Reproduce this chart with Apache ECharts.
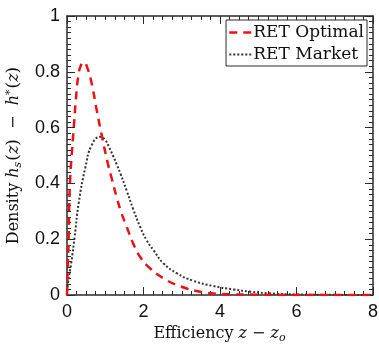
<!DOCTYPE html>
<html>
<head>
<meta charset="utf-8">
<script src="https://cdn.jsdelivr.net/npm/echarts@6/dist/echarts.min.js"></script>
<style>
  html, body { margin: 0; padding: 0; background: #fff; }
  #chart { width: 379px; height: 345px; }
</style>
</head>
<body>
<div id="chart"></div>
<script>
// Density curves of efficiency, sampled at (x, density) points
const optimalX = [0, 0.005, 0.018, 0.044, 0.06, 0.087, 0.11, 0.175, 0.235, 0.30, 0.37, 0.44, 0.53, 0.65, 0.78, 0.92, 1.07, 1.18, 1.31, 1.42, 1.56, 1.73, 1.91, 2.17, 2.52, 2.95, 3.48, 4.0, 5, 6, 7, 8];
const optimalY = [0, 0.03, 0.09, 0.21, 0.33, 0.43, 0.478, 0.597, 0.705, 0.789, 0.825, 0.834, 0.815, 0.755, 0.66, 0.565, 0.47, 0.412, 0.345, 0.295, 0.245, 0.185, 0.137, 0.096, 0.06, 0.032, 0.012, 0.004, 0.001, 0, 0, 0];
const marketX = [0, 0.026, 0.11, 0.2, 0.305, 0.48, 0.65, 0.87, 1.0, 1.1, 1.2, 1.3, 1.4, 1.56, 1.73, 1.91, 2.08, 2.26, 2.52, 2.87, 3.3, 3.83, 4.35, 4.8, 5.3, 6, 7, 8];
const marketY = [0, 0.042, 0.114, 0.209, 0.329, 0.457, 0.538, 0.567, 0.555, 0.53, 0.5, 0.468, 0.434, 0.374, 0.308, 0.245, 0.197, 0.161, 0.114, 0.078, 0.051, 0.032, 0.02, 0.012, 0.006, 0.002, 0.0005, 0];
const seriesNames = ['RET Optimal', 'RET Market'];
const xTicks = [0, 2, 4, 6, 8];
const yTicks = [0, 0.2, 0.4, 0.6, 0.8, 1];

const pairs = (xs, ys) => xs.map((x, i) => [x, ys[i]]);
const frame = '#2a2a2a';
const serif = '"DejaVu Serif", "Liberation Serif", serif';
const sans = '"Liberation Sans", Arial, sans-serif';
const redDash = [8, 6];
const blackDot = [2, 2];

const baseAxis = {
  axisLine: { show: true, onZero: false, lineStyle: { color: frame, width: 1.5 } },
  axisTick: { show: true, inside: true, length: 8, lineStyle: { color: frame, width: 1 } },
  minorTick: { show: true, length: 4, lineStyle: { color: frame, width: 1 } },
  splitLine: { show: false },
  minorSplitLine: { show: false }
};

const rich = {
  i: { fontFamily: serif, fontStyle: 'italic', fontSize: 16, color: '#111' },
  p: { fontFamily: serif, fontSize: 17, color: '#111' },
  sub: { fontFamily: serif, fontStyle: 'italic', fontSize: 11, color: '#111', padding: [9, 1, 0, 0] },
  sup: { fontFamily: serif, fontSize: 11, color: '#111', padding: [0, 1, 8, 0] }
};

const chart = echarts.init(document.getElementById('chart'), null, { renderer: 'canvas' });
chart.setOption({
  animation: false,
  backgroundColor: '#fff',
  grid: { left: 67, right: 6, top: 16, bottom: 50, containLabel: false, outerBoundsMode: 'none' },
  legend: {
    data: [
      { name: seriesNames[0], lineStyle: { type: redDash, width: 2.5 } },
      { name: seriesNames[1], lineStyle: { type: blackDot, width: 2 } }
    ],
    orient: 'vertical',
    right: 12,
    top: 20,
    itemWidth: 24,
    itemHeight: 12,
    itemGap: 5,
    padding: [4, 3, 3, 2],
    borderColor: frame,
    borderWidth: 1,
    backgroundColor: '#fff',
    itemStyle: { opacity: 0 },
    textStyle: { fontFamily: serif, fontSize: 17, color: '#111', padding: [0, 0, 0, -5] }
  },
  xAxis: [
    Object.assign({}, baseAxis, {
      type: 'value', min: xTicks[0], max: xTicks[xTicks.length - 1], interval: 2,
      minorTick: Object.assign({}, baseAxis.minorTick, { splitNumber: 8 }),
      axisLabel: { fontFamily: sans, fontSize: 18, color: '#111', margin: 8 },
      name: 'Efficiency {i|z} − {i|z}{sub|o}',
      nameLocation: 'middle', nameGap: 29,
      nameTextStyle: { fontFamily: serif, fontSize: 16, color: '#111', rich: rich }
    }),
    Object.assign({}, baseAxis, {
      type: 'value', position: 'top', min: xTicks[0], max: xTicks[xTicks.length - 1], interval: 2,
      minorTick: Object.assign({}, baseAxis.minorTick, { splitNumber: 8 }),
      axisLabel: { show: false }
    })
  ],
  yAxis: [
    Object.assign({}, baseAxis, {
      type: 'value', min: yTicks[0], max: yTicks[yTicks.length - 1], interval: 0.2,
      minorTick: Object.assign({}, baseAxis.minorTick, { splitNumber: 10 }),
      axisLabel: { fontFamily: sans, fontSize: 18, color: '#111', margin: 7 },
      name: 'Density {i|h}{sub|s}{p|(}{i|z}{p|)}  −  {i|h}{sup|*}{p|(}{i|z}{p|)}',
      nameLocation: 'middle', nameGap: 40, nameRotate: 90,
      nameTextStyle: { fontFamily: serif, fontSize: 16, color: '#111', rich: rich }
    }),
    Object.assign({}, baseAxis, {
      type: 'value', position: 'right', min: yTicks[0], max: yTicks[yTicks.length - 1], interval: 0.2,
      minorTick: Object.assign({}, baseAxis.minorTick, { splitNumber: 10 }),
      axisLabel: { show: false }
    })
  ],
  series: [
    {
      name: seriesNames[0], type: 'line', smooth: true, showSymbol: false, symbol: 'none',
      data: pairs(optimalX, optimalY),
      lineStyle: { color: '#ee1111', width: 2.5, type: redDash },
      itemStyle: { color: '#ee1111' }, z: 3
    },
    {
      name: seriesNames[1], type: 'line', smooth: true, showSymbol: false, symbol: 'none',
      data: pairs(marketX, marketY),
      lineStyle: { color: '#333', width: 2, type: blackDot },
      itemStyle: { color: '#333' }, z: 2
    }
  ]
});
</script>
</body>
</html>
